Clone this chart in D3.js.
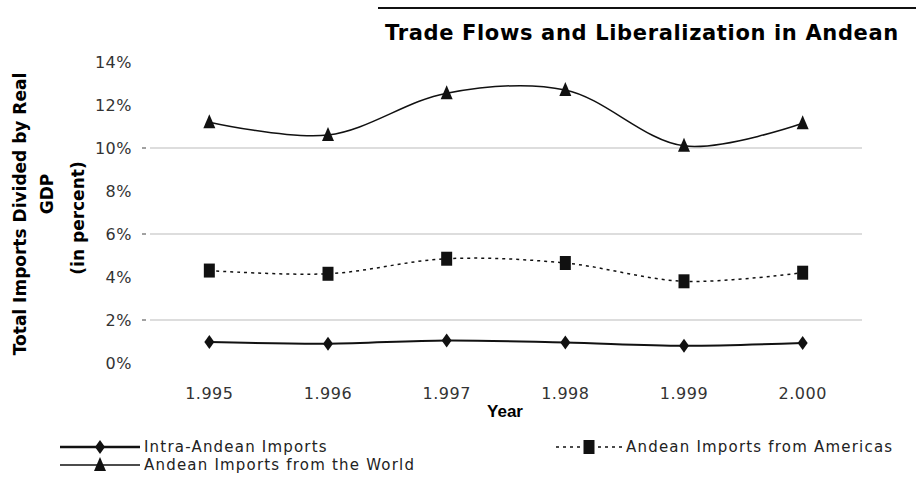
<!DOCTYPE html>
<html>
<head>
<meta charset="utf-8">
<script src="https://cdn.jsdelivr.net/npm/d3@7"></script>
<style>
  body { margin: 0; background: #fff; }
  text { font-family: "DejaVu Sans", sans-serif; }
</style>
</head>
<body>
<div id="chart"></div>
<script>
var years = ["1.995", "1.996", "1.997", "1.998", "1.999", "2.000"];
var intraAndean = [0.98, 0.9, 1.05, 0.95, 0.8, 0.93];
var fromAmericas = [4.3, 4.15, 4.85, 4.65, 3.8, 4.2];
var fromWorld = [11.2, 10.6, 12.55, 12.7, 10.1, 11.15];
var yTicks = [0, 2, 4, 6, 8, 10, 12, 14];
var gridTicks = [2, 6, 10];

// tall marker shapes like the original
var tallSquare = { draw: function(ctx) { ctx.rect(-5.5, -7, 11, 14); } };
var tallDiamond = { draw: function(ctx) {
    ctx.moveTo(0, -7); ctx.lineTo(5, 0); ctx.lineTo(0, 7); ctx.lineTo(-5, 0); ctx.closePath();
} };
var triangle = { draw: function(ctx) {
    ctx.moveTo(0, -8); ctx.lineTo(6, 6); ctx.lineTo(-6, 6); ctx.closePath();
} };

function draw() {
    var w = 916, h = 480;
    var svg = d3.select("#chart").append("svg")
        .attr("width", w)
        .attr("height", h);

    var x = d3.scaleBand().domain(years).range([150, 862]);
    var y = d3.scaleLinear().domain([0, 14]).range([363, 62]);
    var cx = function(d, i) { return x(years[i]) + x.bandwidth() / 2; };

    // title and rule above it
    svg.append("line")
        .attr("x1", 378).attr("x2", 916)
        .attr("y1", 8).attr("y2", 8)
        .style("stroke", "#111").style("stroke-width", 2);
    svg.append("text")
        .attr("x", 385).attr("y", 40)
        .style("font-size", "21px").style("font-weight", "bold")
        .style("letter-spacing", "0.65px")
        .text("Trade Flows and Liberalization in Andean");

    // gridlines
    svg.selectAll(".grid").data(gridTicks).enter().append("line")
        .attr("class", "grid")
        .attr("x1", 150).attr("x2", 862)
        .attr("y1", function(d) { return y(d); })
        .attr("y2", function(d) { return y(d); })
        .style("stroke", "#bbb");
    svg.selectAll(".tick").data(gridTicks).enter().append("line")
        .attr("class", "tick")
        .attr("x1", 142).attr("x2", 146)
        .attr("y1", function(d) { return y(d); })
        .attr("y2", function(d) { return y(d); })
        .style("stroke", "#444");

    // y tick labels
    svg.selectAll(".ylab").data(yTicks).enter().append("text")
        .attr("class", "ylab")
        .attr("x", 132)
        .attr("y", function(d) { return y(d); })
        .attr("dy", "0.35em")
        .attr("text-anchor", "end")
        .style("font-size", "16px").style("fill", "#333")
        .style("letter-spacing", "0.5px")
        .text(function(d) { return d + "%"; });

    // y axis title
    var yt = svg.append("g").attr("transform", "translate(0,214) rotate(-90)");
    yt.append("text").attr("x", 0).attr("y", 26)
        .attr("text-anchor", "middle")
        .style("font-size", "17px").style("font-weight", "bold")
        .text("Total Imports Divided by Real");
    yt.append("text").attr("x", 20).attr("y", 53)
        .attr("text-anchor", "middle")
        .style("font-size", "17px").style("font-weight", "bold")
        .text("GDP");
    yt.append("text").attr("x", -4).attr("y", 84)
        .attr("text-anchor", "middle")
        .style("font-size", "17px").style("font-weight", "bold")
        .text("(in percent)");

    // x labels
    svg.selectAll(".xlab").data(years).enter().append("text")
        .attr("class", "xlab")
        .attr("x", function(d) { return x(d) + x.bandwidth() / 2; })
        .attr("y", 399)
        .attr("text-anchor", "middle")
        .style("font-size", "16px").style("fill", "#333")
        .style("letter-spacing", "0.5px")
        .text(function(d) { return d; });
    svg.append("text")
        .attr("x", 505).attr("y", 417)
        .attr("text-anchor", "middle")
        .style("font-family", "'Liberation Sans Narrow', 'Liberation Sans', sans-serif")
        .style("font-size", "17px").style("font-weight", "bold")
        .text("Year");

    var line = d3.line()
        .x(cx)
        .y(function(d) { return y(d); })
        .curve(d3.curveCatmullRom.alpha(0.5));

    svg.append("path").datum(fromWorld)
        .attr("d", line)
        .style("fill", "none").style("stroke", "#111").style("stroke-width", 1.5);
    svg.append("path").datum(fromAmericas)
        .attr("d", line)
        .style("fill", "none").style("stroke", "#111").style("stroke-width", 1.5)
        .style("stroke-dasharray", "3,4");
    svg.append("path").datum(intraAndean)
        .attr("d", line)
        .style("fill", "none").style("stroke", "#111").style("stroke-width", 2);

    var tri = d3.symbol().type(triangle);
    var sq = d3.symbol().type(tallSquare);
    var dia = d3.symbol().type(tallDiamond);

    svg.selectAll(".tri").data(fromWorld).enter().append("path")
        .attr("class", "tri").attr("d", tri)
        .attr("transform", function(d, i) { return "translate(" + cx(d, i) + "," + y(d) + ")"; })
        .style("fill", "#111");
    svg.selectAll(".sq").data(fromAmericas).enter().append("path")
        .attr("class", "sq").attr("d", sq)
        .attr("transform", function(d, i) { return "translate(" + cx(d, i) + "," + y(d) + ")"; })
        .style("fill", "#111");
    svg.selectAll(".dia").data(intraAndean).enter().append("path")
        .attr("class", "dia").attr("d", dia)
        .attr("transform", function(d, i) { return "translate(" + cx(d, i) + "," + y(d) + ")"; })
        .style("fill", "#111");

    // legend
    var legend = [
        { x: 60, y: 447, len: 80, label: "Intra-Andean Imports", sym: dia, width: 2.5, dash: null },
        { x: 60, y: 465, len: 80, label: "Andean Imports from the World", sym: tri, width: 1.5, dash: null },
        { x: 556, y: 447, len: 66, label: "Andean Imports from Americas", sym: sq, width: 1.5, dash: "3,4" }
    ];
    legend.forEach(function(l) {
        svg.append("line")
            .attr("x1", l.x).attr("x2", l.x + l.len)
            .attr("y1", l.y).attr("y2", l.y)
            .style("stroke", "#111").style("stroke-width", l.width)
            .style("stroke-dasharray", l.dash);
        svg.append("path").attr("d", l.sym)
            .attr("transform", "translate(" + (l.x + l.len / 2) + "," + l.y + ")")
            .style("fill", "#111");
        svg.append("text")
            .attr("x", l.x + l.len + 4).attr("y", l.y)
            .attr("dy", "0.35em")
            .style("font-size", "15px").style("fill", "#222")
            .style("letter-spacing", "1.2px")
            .text(l.label);
    });
}

draw();
</script>
</body>
</html>
